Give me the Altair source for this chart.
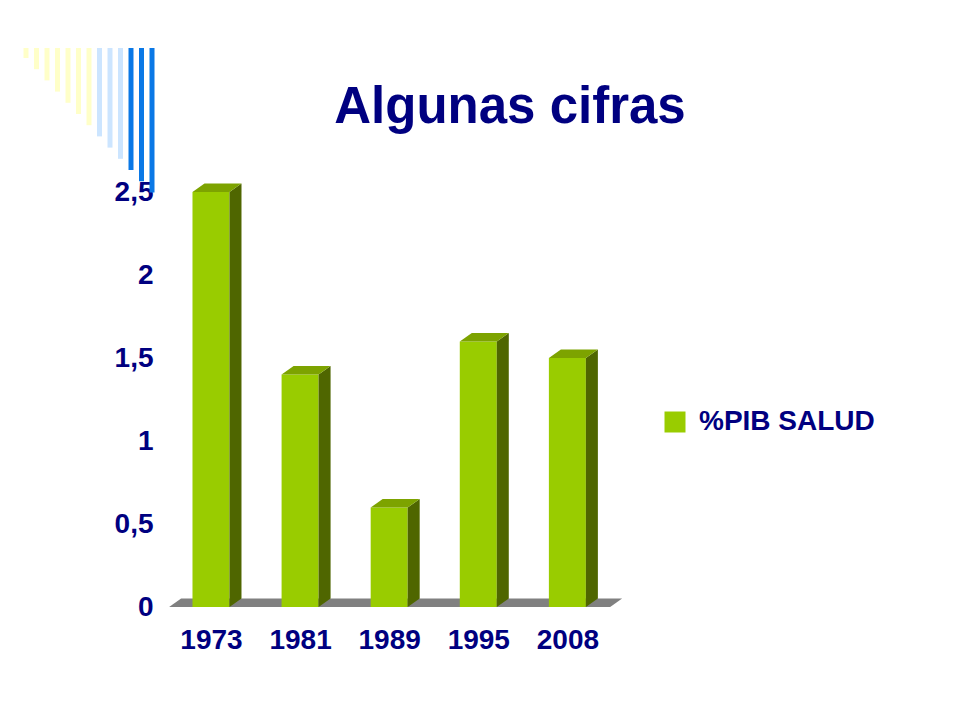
import altair as alt
import pandas as pd

# ---- data ----
years = ["1973", "1981", "1989", "1995", "2008"]
values = [2.5, 1.4, 0.6, 1.6, 1.5]
series_name = "%PIB SALUD"
y_ticks = [0, 0.5, 1, 1.5, 2, 2.5]
title_text = "Algunas cifras"

# ---- style / geometry ----
FONT = "Liberation Sans"
NAVY = "#000080"
FRONT = "#99CC00"
SIDE = "#4F6600"
TOP = "#7DA300"
FLOOR = "#808080"

W, H = 452, 415
Y_MAX = 2.5
X_DOM = [-0.46, 4.613]
PX_X = W / (X_DOM[1] - X_DOM[0])
PX_Y = H / Y_MAX
HALF = 18.5 / PX_X
DX = 12 / PX_X
DY = 8.5 / PX_Y
FLOOR_L = -0.47
FLOOR_R = 4.48

xs = alt.Scale(domain=X_DOM, nice=False, zero=False)
ys = alt.Scale(domain=[0, Y_MAX], nice=False, zero=False)

idx = list(range(len(years)))
label_expr_x = "[" + ",".join("'%s'" % y for y in years) + "][datum.value]"

AX_X = alt.Axis(values=idx, labelExpr=label_expr_x, domain=False, ticks=False,
                grid=False, labelFont=FONT, labelFontSize=28, labelFontWeight="bold",
                labelColor=NAVY, labelPadding=19, labelFlush=False, labelOverlap=False,
                title=None)
AX_Y = alt.Axis(values=y_ticks, format="~g", labelExpr="replace(datum.label, '.', ',')",
                domain=False, ticks=False, grid=False, labelFont=FONT,
                labelFontSize=28, labelFontWeight="bold", labelColor=NAVY,
                labelPadding=17, labelFlush=False, labelOverlap=False, title=None)


def X(field):
    return alt.X(field, scale=xs, axis=AX_X, title=None, stack=None)


def Y(field):
    return alt.Y(field, scale=ys, axis=AX_Y, title=None, stack=None)


front = pd.DataFrame({
    "xl": [i - HALF for i in idx],
    "xr": [i + HALF for i in idx],
    "v": values,
    "b": [0.0] * len(values),
    "year": years,
    "serie": [series_name] * len(values),
})

side_rows, top_rows = [], []
for i, v, yr in zip(idx, values, years):
    side_rows.append({"year": yr, "x": i + HALF, "top": v, "bot": 0.0})
    side_rows.append({"year": yr, "x": i + HALF + DX, "top": v + DY, "bot": DY})
    top_rows.append({"year": yr, "y": v, "xl": i - HALF, "xr": i + HALF})
    top_rows.append({"year": yr, "y": v + DY, "xl": i - HALF + DX, "xr": i + HALF + DX})
side = pd.DataFrame(side_rows)
topf = pd.DataFrame(top_rows)
floor = pd.DataFrame({
    "y": [0.0, DY],
    "xl": [FLOOR_L, FLOOR_L + DX],
    "xr": [FLOOR_R, FLOOR_R + DX],
})

floor_layer = alt.Chart(floor).mark_area(orient="horizontal", color=FLOOR).encode(
    y=Y("y:Q"), x=X("xl:Q"), x2="xr:Q",
)

front_layer = alt.Chart(front).mark_rect().encode(
    x=X("xl:Q"), x2="xr:Q",
    y=Y("v:Q"), y2="b:Q",
    color=alt.Color("serie:N", scale=alt.Scale(range=[FRONT]),
                    legend=alt.Legend(title=None, orient="none", legendX=491, legendY=216,
                                      symbolType="square", symbolSize=441, symbolStrokeWidth=0,
                                      labelFont=FONT, labelFontSize=28, labelFontWeight="bold",
                                      labelColor=NAVY, labelOffset=10, labelLimit=0, padding=0)),
)

side_layer = alt.Chart(side).mark_area(color=SIDE, orient="vertical").encode(
    x=X("x:Q"), y=Y("top:Q"), y2="bot:Q", detail="year:N",
)

top_layer = alt.Chart(topf).mark_area(color=TOP, orient="horizontal").encode(
    y=Y("y:Q"), x=X("xl:Q"), x2="xr:Q", detail="year:N",
)

# ---- decoration: stripes top-left, placed through the same scales ----
def px_to_x(px):
    return X_DOM[0] + (px - 170) / PX_X


def py_to_y(py):
    return (607 - py) / PX_Y


stripe_colors = ["#FFFFC8"] * 7 + ["#CCE5FF"] * 3 + ["#0A78E6"] * 3
stripes = pd.DataFrame({
    "x": [px_to_x(26 + 10.5 * i) for i in range(13)],
    "y": [py_to_y(48)] * 13,
    "y2": [py_to_y(58 + 11.2 * i) for i in range(13)],
    "c": stripe_colors,
})
stripe_layer = alt.Chart(stripes).mark_rule(strokeWidth=5, strokeCap="butt").encode(
    x=X("x:Q"), y=Y("y:Q"), y2="y2:Q",
    stroke=alt.Stroke("c:N", scale=None, legend=None),
)

title_layer = alt.Chart(pd.DataFrame({"t": [title_text]})).mark_text(
    align="center", baseline="alphabetic", font=FONT, fontSize=51,
    fontWeight="bold", color=NAVY,
).encode(x=alt.value(340), y=alt.value(-69), text="t:N")

chart = alt.layer(
    stripe_layer, title_layer, floor_layer, front_layer, side_layer, top_layer
).properties(
    width=W, height=H,
    padding={"left": 162, "top": 184, "right": 330, "bottom": 105},
    autosize=alt.AutoSizeParams(type="none"),
    background="white",
).configure_view(stroke=None)

chart.save("out.html", embed_options={"renderer": "svg", "actions": False})
